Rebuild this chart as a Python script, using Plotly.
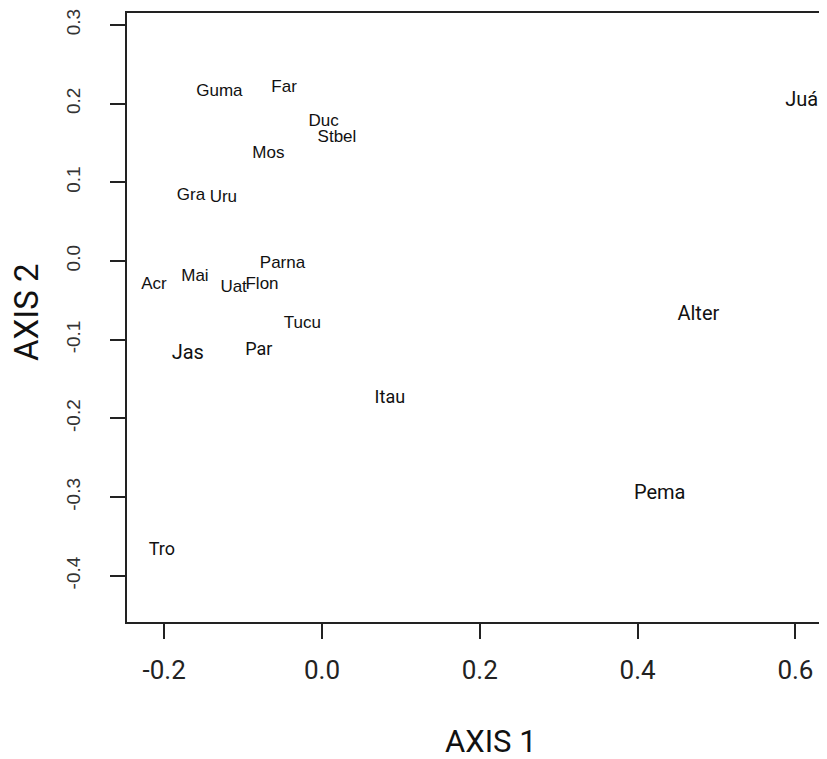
import plotly.graph_objects as go

# Site scores
sites_a = ["Guma", "Far", "Duc", "Stbel", "Mos", "Gra", "Uru", "Parna",
           "Acr", "Mai", "Uat", "Flon", "Tucu"]
axis1_a = [-0.130, -0.048, 0.002, 0.019, -0.068, -0.166, -0.125, -0.050,
           -0.213, -0.161, -0.112, -0.076, -0.025]
axis2_a = [0.215, 0.220, 0.177, 0.157, 0.136, 0.083, 0.081, -0.003,
           -0.030, -0.020, -0.034, -0.030, -0.080]

sites_b = ["Par", "Itau", "Tro"]
axis1_b = [-0.080, 0.086, -0.203]
axis2_b = [-0.114, -0.174, -0.368]

sites_c = ["Jas", "Juá", "Alter", "Pema"]
axis1_c = [-0.170, 0.608, 0.477, 0.428]
axis2_c = [-0.118, 0.204, -0.069, -0.296]

x_ticks = [-0.2, 0.0, 0.2, 0.4, 0.6]
x_ticktext = ["-0.2", "0.0", "0.2", "0.4", "0.6"]
y_ticks = [-0.4, -0.3, -0.2, -0.1, 0.0, 0.1, 0.2, 0.3]
y_ticktext = ["-0.4", "-0.3", "-0.2", "-0.1", "0.0", "0.1", "0.2", "0.3"]

fig = go.Figure()
fig.add_trace(go.Scatter(
    x=axis1_a, y=axis2_a, text=sites_a, mode="text",
    textposition="middle center",
    textfont=dict(family="Liberation Sans, Arial, sans-serif", size=17, color="#111"),
    hoverinfo="skip", showlegend=False,
))
fig.add_trace(go.Scatter(
    x=axis1_b, y=axis2_b, text=sites_b, mode="text",
    textposition="middle center",
    textfont=dict(family="Roboto, sans-serif", size=18, color="#111"),
    hoverinfo="skip", showlegend=False,
))
fig.add_trace(go.Scatter(
    x=axis1_c, y=axis2_c, text=sites_c, mode="text",
    textposition="middle center",
    textfont=dict(family="Roboto, sans-serif", size=20, color="#111"),
    hoverinfo="skip", showlegend=False,
))

# page body adds an 8px offset; compensate in size and margins
fig.update_layout(
    width=819, height=751,
    margin=dict(l=119, r=0, t=5, b=137),
    paper_bgcolor="white", plot_bgcolor="white",
    xaxis=dict(
        range=[-0.2471, 0.640], tickvals=x_ticks, ticktext=x_ticktext,
        showgrid=False, zeroline=False, showline=True, linecolor="#222",
        linewidth=1.5, mirror=True, ticks="outside", ticklen=15, tickwidth=1.5,
        tickcolor="#222", ticklabelstandoff=9,
        tickfont=dict(family="Roboto, sans-serif", size=26, color="#222"),
    ),
    yaxis=dict(
        range=[-0.4586, 0.3152], tickvals=y_ticks, ticktext=y_ticktext,
        showgrid=False, zeroline=False, showline=True, linecolor="#222",
        linewidth=1.5, mirror=False, ticks="outside", ticklen=15, tickwidth=1.5,
        tickcolor="#222", tickangle=-90, ticklabelstandoff=23,
        tickfont=dict(family="Liberation Sans, Arial, sans-serif", size=19, color="#333"),
    ),
    annotations=[
        dict(text="AXIS 1", xref="paper", yref="paper", x=0.5207, y=-0.197,
             xanchor="center", yanchor="middle", showarrow=False,
             font=dict(family="Roboto, sans-serif", size=31, color="#111")),
        dict(text="AXIS 2", xref="paper", yref="paper", x=-0.1443, y=0.509,
             xanchor="center", yanchor="middle", showarrow=False, textangle=-90,
             font=dict(family="Roboto, sans-serif", size=33, color="#111")),
    ],
)

fig.write_html("out.html")
